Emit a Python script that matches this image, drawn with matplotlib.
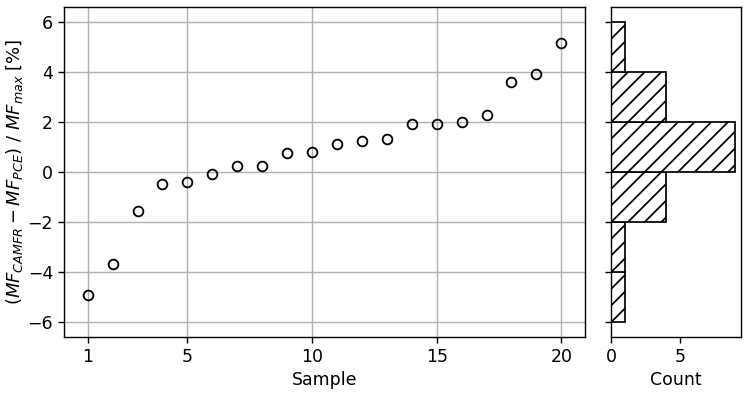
import matplotlib
import matplotlib.pyplot as plt
import numpy as np

matplotlib.use("Agg")

# relative deviation per sample, sorted ascending
samples = np.arange(1, 21)
deviation = [-4.92, -3.67, -1.55, -0.47, -0.40, -0.09, 0.23, 0.24, 0.76, 0.80,
             1.14, 1.23, 1.33, 1.92, 1.93, 2.02, 2.27, 3.60, 3.92, 5.16]
bin_edges = [-6, -4, -2, 0, 2, 4, 6]
sample_ticks = [1, 5, 10, 15, 20]

scale = 1.25
plt.rcParams.update({
    "font.size": 10 * scale,
    "axes.linewidth": 0.8 * scale,
    "xtick.major.width": 0.8 * scale,
    "ytick.major.width": 0.8 * scale,
    "xtick.major.size": 3.5 * scale,
    "ytick.major.size": 3.5 * scale,
    "hatch.linewidth": 1.0 * scale,
})

fig = plt.figure(figsize=(7.49, 3.94), dpi=100)
ax = fig.add_axes([0.0854, 0.1454, 0.781 - 0.0854, 0.9815 - 0.1454])
ax_h = fig.add_axes([0.8158, 0.1454, 0.9893 - 0.8158, 0.9815 - 0.1454], sharey=ax)

ax.plot(samples, deviation, "o", mfc="none", mec="black", ms=7, mew=1.3, zorder=3)
ax.set_xticks(sample_ticks)
ax.grid(True, color="#b0b0b0", lw=0.8 * scale)
ax.set_axisbelow(True)
ax.set_xlabel("Sample")
ax.set_ylabel(r"$(MF_{CAMFR} - MF_{PCE})\ /\ MF_{max}$ [%]", fontsize=13, labelpad=1.5)

ax_h.hist(deviation, bins=bin_edges, orientation="horizontal",
          facecolor="white", edgecolor="black", hatch="//", lw=1.0 * scale)
ax_h.set_xlabel("Count")
ax_h.set_xticks([0, 5])
ax_h.tick_params(axis="y", labelleft=False)

fig.savefig("out.png", dpi=100)
plt.close(fig)
